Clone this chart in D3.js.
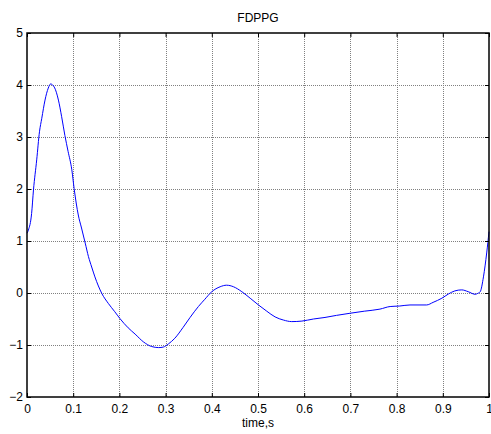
<!DOCTYPE html>
<html>
<head>
<meta charset="utf-8">
<script src="https://cdn.jsdelivr.net/npm/d3@7"></script>
<style>
  body { margin: 0; background: #fff; }
  text { font-family: "Liberation Sans", Arial, sans-serif; font-size: 12px; fill: #000; }
</style>
</head>
<body>
<div id="chart"></div>
<script>
var timeValues = [0.000, 0.003, 0.010, 0.014, 0.021, 0.027, 0.032, 0.039, 0.046, 0.051,
    0.059, 0.068, 0.075, 0.082, 0.089, 0.097, 0.102, 0.111, 0.118, 0.126,
    0.133, 0.140, 0.147, 0.162, 0.176, 0.190, 0.201, 0.219, 0.234, 0.252,
    0.270, 0.285, 0.295, 0.306, 0.320, 0.338, 0.353, 0.371, 0.385, 0.400,
    0.418, 0.432, 0.447, 0.465, 0.483, 0.501, 0.519, 0.537, 0.555, 0.573,
    0.595, 0.620, 0.645, 0.670, 0.699, 0.730, 0.764, 0.786, 0.807, 0.829,
    0.865, 0.879, 0.898, 0.912, 0.926, 0.941, 0.955, 0.970, 0.975, 0.981,
    0.988, 0.995, 1.000];
var fdppgValues = [1.15, 1.21, 1.53, 1.98, 2.56, 3.10, 3.36, 3.71, 3.94, 4.02,
    3.96, 3.71, 3.39, 3.03, 2.72, 2.37, 2.01, 1.50, 1.25, 0.96,
    0.70, 0.50, 0.31, -0.01, -0.20, -0.36, -0.49, -0.67, -0.79, -0.94,
    -1.03, -1.05, -1.04, -0.98, -0.87, -0.66, -0.47, -0.26, -0.12, 0.025,
    0.12, 0.15, 0.12, 0.025, -0.10, -0.23, -0.35, -0.46, -0.52, -0.55,
    -0.54, -0.50, -0.47, -0.43, -0.39, -0.35, -0.31, -0.26, -0.25, -0.23,
    -0.23, -0.18, -0.10, -0.02, 0.04, 0.06, 0.025, -0.025, -0.01, 0.025,
    0.31, 0.77, 1.18];
var xTicks = [0, 0.1, 0.2, 0.3, 0.4, 0.5, 0.6, 0.7, 0.8, 0.9, 1];
var yTicks = [-2, -1, 0, 1, 2, 3, 4, 5];

var margin = {top: 33, right: 2, bottom: 37, left: 27},
    width = 491 - margin.left - margin.right,
    height = 434 - margin.top - margin.bottom;

var lineData = timeValues.map(function(t, i) { return {x: t, y: fdppgValues[i]}; });

var xScale = d3.scaleLinear().domain([0, 1]).range([0, width]);
var yScale = d3.scaleLinear().domain([-2, 5]).range([height, 0]);

var svg = d3.select('#chart')
    .append('svg')
    .attr('width', 491)
    .attr('height', 434);

var g = svg.append('g')
    .attr('transform', 'translate(' + margin.left + ',' + margin.top + ')');

// grid
g.selectAll('.vgrid')
    .data(xTicks.slice(1, -1))
    .enter().append('line')
    .attr('x1', function(d) { return Math.round(xScale(d)) + 0.5; })
    .attr('x2', function(d) { return Math.round(xScale(d)) + 0.5; })
    .attr('y1', 0).attr('y2', height)
    .attr('stroke', '#808080')
    .attr('stroke-dasharray', '1,1');

g.selectAll('.hgrid')
    .data(yTicks.slice(1, -1))
    .enter().append('line')
    .attr('y1', function(d) { return Math.round(yScale(d)) + 0.5; })
    .attr('y2', function(d) { return Math.round(yScale(d)) + 0.5; })
    .attr('x1', 0).attr('x2', width)
    .attr('stroke', '#808080')
    .attr('stroke-dasharray', '1,1');

// curve
var lineFunction = d3.line()
    .curve(d3.curveMonotoneX)
    .x(function(d) { return xScale(d.x); })
    .y(function(d) { return yScale(d.y); });

g.append('path')
    .attr('d', lineFunction(lineData))
    .attr('fill', 'none')
    .attr('stroke', '#0000ff')
    .attr('stroke-width', 1);

// axes, ticks pointing inward
var xAxis = d3.axisBottom(xScale).tickValues(xTicks).tickSize(-4).tickPadding(7)
    .tickFormat(d3.format('~g'));
var yAxis = d3.axisLeft(yScale).tickValues(yTicks).tickSize(-4).tickPadding(4)
    .tickFormat(d3.format('d'));
var xAxisTop = d3.axisTop(xScale).tickValues(xTicks).tickSize(-4).tickFormat('');
var yAxisRight = d3.axisRight(yScale).tickValues(yTicks).tickSize(-4).tickFormat('');

function styleAxis(sel) {
    sel.select('.domain').remove();
    sel.selectAll('.tick line').attr('stroke', '#000');
    sel.selectAll('.tick text').style('font-size', '12px')
        .style('font-family', '"Liberation Sans", Arial, sans-serif');
}

g.append('g').attr('transform', 'translate(0,' + height + ')').call(xAxis).call(styleAxis);
g.append('g').call(yAxis).call(styleAxis);
g.append('g').call(xAxisTop).call(styleAxis);
g.append('g').attr('transform', 'translate(' + width + ',0)').call(yAxisRight).call(styleAxis);

// box
g.append('rect')
    .attr('x', 0).attr('y', 0)
    .attr('width', width).attr('height', height)
    .attr('fill', 'none')
    .attr('stroke', '#000')
    .attr('stroke-width', 1.5);

// labels
svg.append('text')
    .attr('x', margin.left + width / 2)
    .attr('y', 22)
    .style('text-anchor', 'middle')
    .text('FDPPG');

svg.append('text')
    .attr('x', margin.left + width / 2)
    .attr('y', 427)
    .style('text-anchor', 'middle')
    .text('time,s');
</script>
</body>
</html>
